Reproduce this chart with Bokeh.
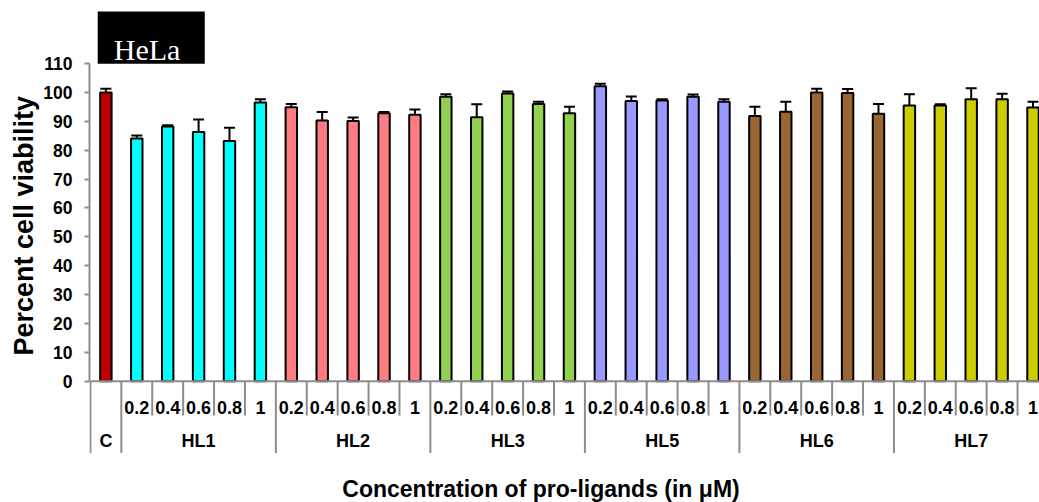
from bokeh.plotting import figure
from bokeh.models import Range1d, FixedTicker, ColumnDataSource, Whisker, TeeHead, Title
from bokeh.core.properties import value
from bokeh.embed import file_html
from bokeh.resources import INLINE

# ---------------- data ----------------
control_label = "C"
control_value = 100.0
control_error = 1.3
control_color = "#C00000"

groups = ["HL1", "HL2", "HL3", "HL5", "HL6", "HL7"]
concentrations = ["0.2", "0.4", "0.6", "0.8", "1"]

hl1_values = [84.0, 88.2, 86.3, 83.2, 96.5]
hl1_errors = [1.1, 0.4, 4.3, 4.6, 1.1]
hl2_values = [94.9, 90.3, 90.1, 92.8, 92.3]
hl2_errors = [1.1, 2.9, 1.2, 0.4, 1.8]
hl3_values = [98.5, 91.4, 99.6, 96.0, 92.8]
hl3_errors = [0.9, 4.5, 0.7, 0.8, 2.2]
hl5_values = [102.1, 97.0, 97.2, 98.5, 96.8]
hl5_errors = [0.9, 1.6, 0.4, 0.8, 0.8]
hl6_values = [91.8, 93.3, 100.0, 99.8, 92.6]
hl6_errors = [3.2, 3.5, 1.3, 1.4, 3.4]
hl7_values = [95.5, 95.5, 97.6, 97.6, 94.8]
hl7_errors = [3.9, 0.4, 3.8, 1.9, 2.0]

group_colors = ["#00FFFF", "#FF7C80", "#92D050", "#9999FF", "#996633", "#CCCC00"]
y_ticks = [0, 10, 20, 30, 40, 50, 60, 70, 80, 90, 100, 110]

panel_label = "HeLa"
y_title = "Percent cell viability"
x_title = "Concentration of pro-ligands (in μM)"

# ---------------- build table ----------------
group_values = [hl1_values, hl2_values, hl3_values, hl5_values, hl6_values, hl7_values]
group_errors = [hl1_errors, hl2_errors, hl3_errors, hl5_errors, hl6_errors, hl7_errors]

xs, tops, errs, cols, subs = [], [], [], [], []
xs.append(0.5); tops.append(control_value); errs.append(control_error); cols.append(control_color); subs.append("")
group_centers = [0.5]
group_names = [control_label]
boundaries_major = [0, 1]
boundaries_minor = []
slot = 1
for g, vals, es, c in zip(groups, group_values, group_errors, group_colors):
    start = slot
    for conc, v, e in zip(concentrations, vals, es):
        xs.append(slot + 0.5); tops.append(v); errs.append(e); cols.append(c); subs.append(conc)
        slot += 1
        if slot - start < len(concentrations):
            boundaries_minor.append(slot)
    boundaries_major.append(slot)
    group_centers.append((start + slot) / 2)
    group_names.append(g)
n_slots = slot

src = ColumnDataSource(dict(
    x=xs, top=tops, color=cols,
    upper=[t + e for t, e in zip(tops, errs)],
    lower=[t - e for t, e in zip(tops, errs)],
))

# ---------------- figure ----------------
FONT = "Liberation Sans"
AXIS_GREY = "#8c8c8c"

p = figure(frame_width=950, frame_height=502,
           x_range=Range1d(-0.03, 30.71), y_range=Range1d(-42.0, 131.82),
           min_border_left=89, min_border_right=0, min_border_top=0, min_border_bottom=0,
           x_axis_type=None, output_backend="svg", toolbar_location=None)
p.outline_line_color = None
p.ygrid.grid_line_color = None
p.background_fill_color = "white"
p.border_fill_color = "white"

p.yaxis.ticker = FixedTicker(ticks=y_ticks)
p.yaxis.bounds = (0, 110)
p.yaxis.axis_line_color = AXIS_GREY
p.yaxis.axis_line_width = 2
p.yaxis.major_tick_line_color = AXIS_GREY
p.yaxis.major_tick_line_width = 2
p.yaxis.major_tick_out = 5
p.yaxis.major_tick_in = 0
p.yaxis.minor_tick_line_color = None
p.yaxis.major_label_text_font = FONT
p.yaxis.major_label_text_font_style = "bold"
p.yaxis.major_label_text_font_size = "17.5px"
p.yaxis.major_label_text_color = "black"
p.yaxis.major_label_standoff = 12

# y title, starting just above the zero line
p.add_layout(Title(text=y_title, align="left", offset=147, standoff=4,
                   text_font=FONT, text_font_style="bold", text_font_size="27px",
                   text_color="black"), "left")

# bars
p.vbar(x="x", top="top", bottom=0, width=0.37, fill_color="color",
       line_color="black", line_width=2, source=src)

# error bars
p.add_layout(Whisker(source=src, base="x", upper="upper", lower="lower",
                     line_color="black", line_width=2,
                     upper_head=TeeHead(size=11, line_color="black", line_width=2),
                     lower_head=TeeHead(size=11, line_color="black", line_width=2)))

# category axis (x)
p.segment(x0=[0], x1=[n_slots], y0=[0], y1=[0], line_color=AXIS_GREY, line_width=2)
p.segment(x0=boundaries_minor, x1=boundaries_minor, y0=0, y1=-11.9,
          line_color=AXIS_GREY, line_width=2)
p.segment(x0=boundaries_major, x1=boundaries_major, y0=0, y1=-24.9,
          line_color=AXIS_GREY, line_width=2)

sub_x = [x for x, s in zip(xs, subs) if s]
sub_t = [s for s in subs if s]
p.text(x=sub_x, y=-9.1, text=sub_t, text_align="center", text_baseline="middle",
       text_font=value(FONT), text_font_style="bold", text_font_size=value("18px"),
       text_color="black")
p.text(x=group_centers, y=-20.6, text=group_names, text_align="center", text_baseline="middle",
       text_font=value(FONT), text_font_style="bold", text_font_size=value("18px"),
       text_color="black")

# x title
p.text(x=[14.58], y=[-37.3], text=[x_title], text_align="center", text_baseline="alphabetic",
       text_font=value(FONT), text_font_style="bold", text_font_size=value("23px"),
       text_color="black")

# panel label
p.quad(left=[0.236], right=[3.70], top=[128.0], bottom=[109.9],
       fill_color="black", line_color=None)
p.text(x=[1.834], y=[114.75], text=[panel_label], text_align="center", text_baseline="alphabetic",
       text_font=value("Liberation Serif"), text_font_size=value("30px"), text_color="white")

open("out.html", "w").write(file_html(p, INLINE))
